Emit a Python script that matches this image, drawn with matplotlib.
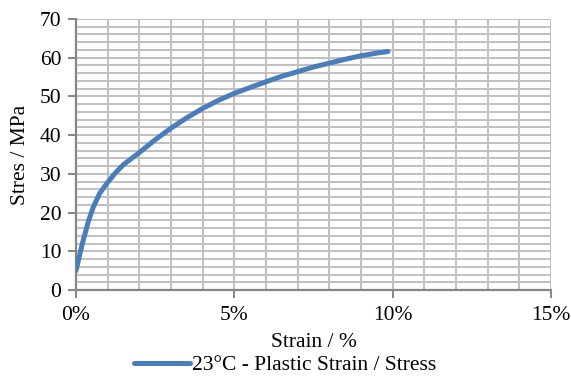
import matplotlib
matplotlib.use("Agg")
import matplotlib.pyplot as plt
from matplotlib.ticker import MultipleLocator, FuncFormatter

strain_pct = [0.0, 0.2, 0.4, 0.55, 0.75, 1.0, 1.25, 1.5, 2.0, 2.5, 3.0, 3.5, 4.0,
              4.5, 5.0, 5.5, 6.0, 6.5, 7.0, 7.5, 8.0, 8.5, 9.0, 9.5, 9.85]
stress_mpa = [5.0, 12.0, 18.0, 21.5, 25.0, 27.8, 30.3, 32.4, 35.5, 38.8, 41.8, 44.5, 46.9,
              49.0, 50.8, 52.3, 53.8, 55.2, 56.4, 57.6, 58.6, 59.6, 60.5, 61.2, 61.6]
series_label = "23°C - Plastic Strain / Stress"
x_label = "Strain / %"
y_label = "Stres / MPa"

plt.rcParams['font.family'] = ['Liberation Serif', 'DejaVu Serif']
FS = 15.5

fig = plt.figure(figsize=(5.71, 3.76), dpi=100)
ax = fig.add_axes([76/571, 1-290/376, (551-76)/571, (290-19)/376])

ax.plot(strain_pct, stress_mpa, color='#4a7ebb', lw=3.6, solid_capstyle='round',
        solid_joinstyle='round', label=series_label, zorder=3)

ax.set_xlim(0, 15)
ax.set_ylim(0, 70)
ax.xaxis.set_major_locator(MultipleLocator(5))
ax.xaxis.set_minor_locator(MultipleLocator(1))
ax.yaxis.set_major_locator(MultipleLocator(10))
ax.yaxis.set_minor_locator(MultipleLocator(2))
ax.xaxis.set_major_formatter(FuncFormatter(lambda v, p: f"{v:.0f}%"))

ax.grid(True, which='both', color='#c0c0c0', lw=1.4, zorder=0)
ax.set_axisbelow(True)
for s in ['top', 'right']:
    ax.spines[s].set_visible(False)
for s in ['left', 'bottom']:
    ax.spines[s].set_color('#868686')
    ax.spines[s].set_linewidth(1.6)
ax.tick_params(which='major', direction='out', length=5.5, width=1.4, color='#868686',
               labelsize=FS)
ax.tick_params(axis='x', which='major', pad=6)
ax.tick_params(axis='y', which='major', pad=5)
ax.tick_params(which='minor', length=0)

ax.set_xlabel(x_label, fontsize=FS, labelpad=6)
ax.set_ylabel(y_label, fontsize=FS, labelpad=7)

fig.legend(loc='center', bbox_to_anchor=(0.5, 1-365/376), frameon=False, fontsize=FS,
           handlelength=2.6, handletextpad=0.1, borderpad=0)

fig.savefig("out.png", dpi=100)
